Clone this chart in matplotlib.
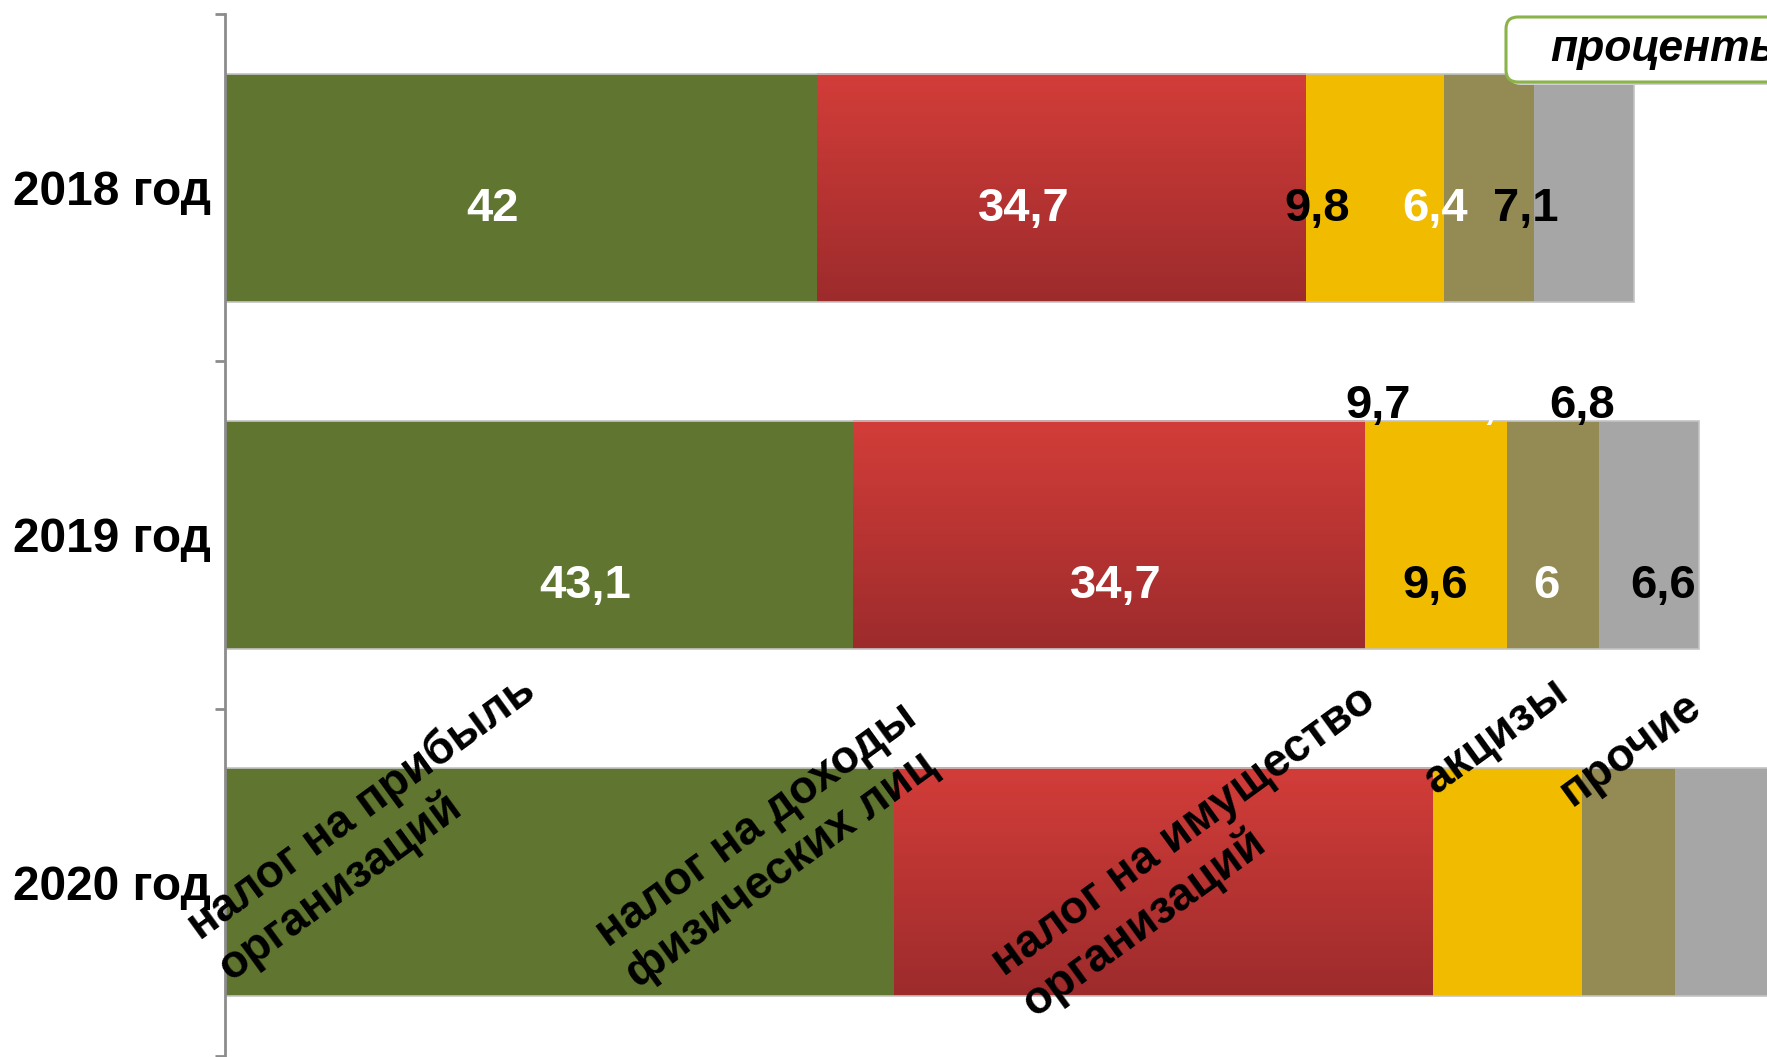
import numpy as np
import matplotlib.pyplot as plt
from matplotlib.colors import LinearSegmentedColormap
from matplotlib.patches import FancyBboxPatch

plt.rcParams["font.family"] = ["Liberation Sans", "DejaVu Sans"]

years = ["2018 год", "2019 год", "2020 год"]
categories = [
    "налог на прибыль\nорганизаций",
    "налог на доходы\nфизических лиц",
    "налог на имущество\nорганизаций",
    "акцизы",
    "прочие",
]

# shares of each tax, per cent
shares_2018 = [42.0, 34.7, 9.8, 6.4, 7.1]
shares_2019 = [42.6, 34.7, 9.7, 6.2, 6.8]
shares_2020 = [43.1, 34.7, 9.6, 6.0, 6.6]

# data labels as they stand on the slide
labels_2018 = ["42", "34,7", "9,8", "6,4", "7,1"]
labels_2019_top = ["9,7", "6,2", "6,8"]
labels_2019_in = ["43,1", "34,7", "9,6", "6", "6,6"]

# --- layout -------------------------------------------------------------
W, H = 1767, 1057
px_unit = 14.09                 # pixels per percent on the 2018 bar
bar_span = [100, 104.6, 110.2]  # drawn length of each bar (bars are stretched)
bar_h = 0.657
seg_colors = ["#5f7530", "#bb3633", "#f1bc00", "#948a53", "#a6a6a6"]
red_cmap = LinearSegmentedColormap.from_list("red", ["#d33d39", "#9d2b2c"])

fig = plt.figure(figsize=(W / 100, H / 100), dpi=100)
ax = fig.add_axes([225 / W, 1 / H, 1 - 225 / W, 1042 / H])

all_shares = [shares_2018, shares_2019, shares_2020]
grad = np.linspace(0, 1, 256).reshape(-1, 1)
for i, (sh, span) in enumerate(zip(all_shares, bar_span)):
    w = np.array(sh) * span / 100
    left = np.concatenate([[0], np.cumsum(w)[:-1]])
    bars = ax.barh(i, w, left=left, height=bar_h, color=seg_colors,
                   edgecolor="none", zorder=2)
    r = bars[1]
    ax.imshow(grad, extent=[r.get_x(), r.get_x() + r.get_width(),
                            i + bar_h / 2, i - bar_h / 2],
              cmap=red_cmap, aspect="auto", zorder=2.1, interpolation="bilinear")
    # thin soft outline like the slide
    ax.barh(i, w.sum(), height=bar_h, facecolor="none",
            edgecolor="#c4c4c4", linewidth=1.2, zorder=2.2)


def centers(sh, scale):
    sh = np.array(sh)
    return (np.cumsum(sh) - sh / 2) * scale


# 2018 labels inside the bar
colA = ["white", "white", "black", "white", "black"]
nudgeA = [-1.1, 0, -0.4, 0.2, 0.2]
for x, dx, t, c in zip(centers(shares_2018, 0.955), nudgeA, labels_2018, colA):
    ax.text(x + dx, 0.062, t, ha="center", va="center", color=c,
            fontsize=34, fontweight="bold", zorder=5)

# 2019: labels above the bar (yellow, olive, grey)
colC = ["black", "white", "black"]
for x, t, c in zip(centers(shares_2019, 1.0)[2:], labels_2019_top, colC):
    ax.text(x - 0.3, 0.628, t, ha="center", va="center", color=c,
            fontsize=34, fontweight="bold", zorder=5)

# 2019: labels inside the bar
colB = ["white", "white", "black", "white", "black"]
nudgeB = [3.0, 0, -0.5, -0.8, 0.9]
for x, dx, t, c in zip(centers(shares_2020, 1.046), nudgeB, labels_2019_in, colB):
    ax.text(x + dx, 1.147, t, ha="center", va="center", color=c,
            fontsize=34, fontweight="bold", zorder=5)

# category names written across the 2020 bar
cat_pos = [(10.8, 1.846), (38.8, 1.895), (69.1, 1.912), (90.2, 1.578), (99.8, 1.618)]
for (x, y), t in zip(cat_pos, categories):
    ax.text(x, y, t, ha="center", va="center", multialignment="left",
            rotation=36, rotation_mode="anchor", fontsize=33,
            fontweight="bold", color="black", zorder=6, clip_on=False)

ax.set_xlim(0, (W - 225) / px_unit)
ax.set_ylim(2.5, -0.5)

for s in ["top", "right", "bottom"]:
    ax.spines[s].set_visible(False)
ax.spines["left"].set_color("#8c8c8c")
ax.spines["left"].set_linewidth(2)
ax.set_xticks([])
ax.set_yticks([-0.5, 0.5, 1.5, 2.5])
ax.set_yticklabels([])
ax.tick_params(axis="y", which="major", length=7, width=2, color="#8c8c8c")
ax.set_yticks([0, 1, 2], minor=True)
ax.set_yticklabels(years, minor=True, fontsize=34.5, fontweight="bold")
ax.tick_params(axis="y", which="minor", length=0, pad=10)

# "проценты" box in the top right corner
shadow = FancyBboxPatch((1509 / 100, (H - 85) / 100), 3.0, 0.65,
                        boxstyle="round,pad=0,rounding_size=0.12",
                        transform=fig.dpi_scale_trans, facecolor="#d0d0d0",
                        edgecolor="none", zorder=9)
box = FancyBboxPatch((1506 / 100, (H - 82) / 100), 3.0, 0.65,
                     boxstyle="round,pad=0,rounding_size=0.12",
                     transform=fig.dpi_scale_trans, facecolor="white",
                     edgecolor="#8ab34a", linewidth=2.2, zorder=10)
fig.patches.extend([shadow, box])
fig.text(1550 / W, 1 - 50 / H, "проценты", ha="left", va="center",
         fontsize=32, fontweight="bold", fontstyle="italic", zorder=11)

fig.savefig("out.png", dpi=100)
